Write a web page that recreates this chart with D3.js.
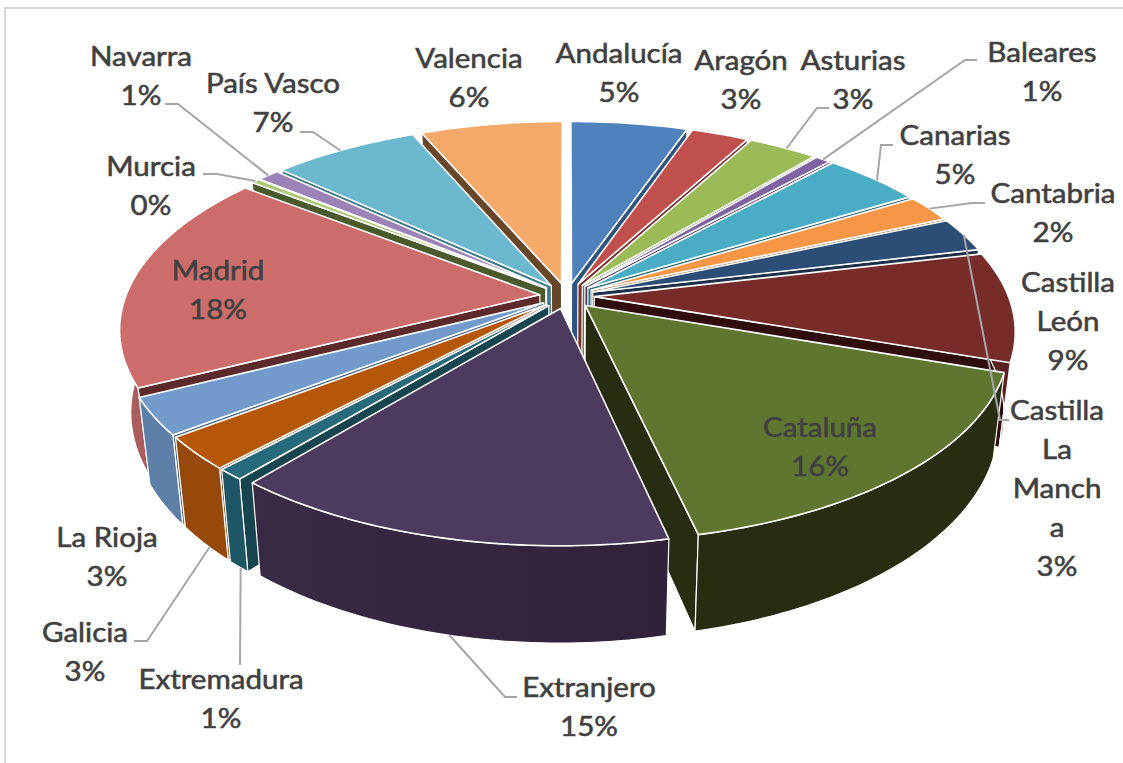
<!DOCTYPE html>
<html><head><meta charset="utf-8">
<style>html,body{margin:0;padding:0;background:#fff}svg{display:block}
text{font-family:Lato,"Open Sans",sans-serif;font-weight:400;font-size:26.5px;fill:#404040;stroke:#404040;stroke-width:0.55px;text-anchor:middle;dominant-baseline:central}</style>
<script src="https://cdnjs.cloudflare.com/ajax/libs/d3/7.8.5/d3.min.js"></script>
</head><body><svg id="c" width="1123" height="763"></svg>
<script>
// ---- data ----
const categories=["Andalucía","Aragón","Asturias","Baleares","Canarias","Cantabria","Castilla La Mancha","Castilla León","Cataluña","Extranjero","Extremadura","Galicia","La Rioja","Madrid","Murcia","Navarra","País Vasco","Valencia"];
const values=[5.3,2.6,3.15,0.7,4.5,2.2,2.8,8.9,16.2,14.5,0.9,2.65,3.0,17.8,0.4,1.0,6.65,6.45];
const percentLabels=["5%","3%","3%","1%","5%","2%","3%","9%","16%","15%","1%","3%","3%","18%","0%","1%","7%","6%"];
// ---- colours ----
const topColors=["#4f81bd","#c0504d","#9bbb59","#8064a2","#4bacc6","#f79646","#2c4d75","#772c2a","#5f7530","#4d3b5f","#276a7c","#b65708","#729aca","#cc6d6b","#afc97a","#9b83b8","#6cb8cf","#f5a96a"];
const wallColors=["#3c6391","#943e3c","#779048","#62497f","#39859a","#be7335","#22395a","#5b2120","#282d11","#34263f","#1f5665","#96490a","#5d7fa8","#ab5d5d","#86a05e","#76648e","#5290a3","#bc8250"];
const sideColors=["#2d5580","#7a2f2d","#61793a","#4f3a6a","#2d6d80","#9c5e2a","#1c3048","#2f0d0c","#282d11","#2b2036","#17454f","#7c3c08","#4c6a8e","#5c2a2a","#4a5a2c","#5e4f74","#3f7a8c","#67462a"];
// ---- label layout: [centre x, first line y, text lines] ----
const labelPlace=[[619,53,["Andalucía"]],[741,60,["Aragón"]],[853,60,["Asturias"]],[1042,52,["Baleares"]],[955,135,["Canarias"]],[1053,193,["Cantabria"]],[1057,410,["Castilla","La","Manch","a"]],[1068,282,["Castilla","León"]],[820,427,["Cataluña"]],[589,687,["Extranjero"]],[221,679,["Extremadura"]],[85,632,["Galicia"]],[107,537,["La Rioja"]],[218,270,["Madrid"]],[151,166,["Murcia"]],[141,56,["Navarra"]],[273,83,["País Vasco"]],[469,58,["Valencia"]]];
// leader: category index, label-side end, elbow, position inside the slice arc (0..1), on bottom rim
const leaders=[[2,[829,108],[817,108],0.55,false],[3,[977,60],[965,60],0.5,false],[4,[893,145],[881,145],0.55,false],[5,[985,203],[972,203],0.5,false],[6,[1009,420],[1000,420],0.5,false],[9,[517,697],[505,697],0.49,true],[10,[240,665],[240,665],0.4,true],[11,[134,641],[147,641],0.4,true],[14,[203,174],[217,174],0.5,false],[15,[165,104],[178,104],0.5,false],[16,[300,132],[313,132],0.47,false]];
const lineH=38.8,labelStretch=1.115;

// ---- projection ----
const cx=567,cy=296,R=414,A=193,K=0.167,EX=0.066,DEPTH=80,SHRINK=0.975;
const TAU=Math.PI*2;
function project(u,v,low){
  const s=1/(1+K*v);
  const X=cx+R*u*s,Y=cy-A*v*s;
  return low?[cx+(X-cx)*SHRINK,Y+DEPTH*s]:[X,Y];
}
const pieGen=d3.pie().sort(null).value(d=>d).startAngle(0).endAngle(TAU);
const slices=pieGen(values).map((d,i)=>{
  const mid=(d.startAngle+d.endAngle)/2;
  return {i,a0:d.startAngle,a1:d.endAngle,mid,ox:EX*Math.sin(mid),oy:EX*Math.cos(mid)};
});
function rimPt(s,a,low){return project(s.ox+Math.sin(a),s.oy+Math.cos(a),low);}
function apexPt(s,low){return project(s.ox,s.oy,low);}
function arcAngles(s){const n=Math.max(2,Math.ceil((s.a1-s.a0)/0.02));return d3.range(n+1).map(k=>s.a0+(s.a1-s.a0)*k/n);}
const svg=d3.select("#c"),defs=svg.append("defs");
const line=d3.line();
// frame
svg.append("path").attr("d",line([[1123,8],[5,8],[5,763]])).attr("fill","none").attr("stroke","#d9d9d9").attr("stroke-width",2.2);

function area(p){return d3.polygonArea(p);}
const order=slices.slice().sort((a,b)=>Math.cos(b.mid)-Math.cos(a.mid));
const gs=svg.selectAll("g.slice").data(order).join("g").attr("class","slice");
gs.each(function(s){
  const g=d3.select(this);
  // radial walls
  [[s.a0,1],[s.a1,-1]].forEach(([a,sign])=>{
    const q=[apexPt(s,false),rimPt(s,a,false),rimPt(s,a,true),apexPt(s,true)];
    if(area(q)*sign>0){
      g.append("path").attr("d",line(q)+"Z").attr("fill",sideColors[s.i]).attr("stroke","#fff").attr("stroke-width",1.2).attr("stroke-linejoin","round");
    }
  });
  // outer wall, only the part that faces the viewer
  const ang=arcAngles(s);
  const front=ang.filter(a=>Math.cos(a)<0.08);
  if(front.length>1){
    const wall=front.map(a=>rimPt(s,a,false)).concat(front.slice().reverse().map(a=>rimPt(s,a,true)));
    const ext=d3.extent(wall,d=>d[0]);
    const gid="w"+s.i;
    const lg=defs.append("linearGradient").attr("id",gid).attr("gradientUnits","userSpaceOnUse").attr("x1",ext[0]).attr("x2",ext[1]).attr("y1",0).attr("y2",0);
    const base=d3.rgb(wallColors[s.i]);
    lg.append("stop").attr("offset",0).attr("stop-color",s.i===9?base.brighter(0.25):base);
    lg.append("stop").attr("offset",1).attr("stop-color",s.i===9?base.darker(0.3):base);
    g.append("path").attr("d",line(wall)+"Z").attr("fill",`url(#${gid})`).attr("stroke","#fff").attr("stroke-width",1.2).attr("stroke-linejoin","round");
  }
  // top
  const top=[apexPt(s,false)].concat(ang.map(a=>rimPt(s,a,false)));
  g.append("path").attr("d",line(top)+"Z").attr("fill",topColors[s.i]).attr("stroke","#fff").attr("stroke-width",1.6).attr("stroke-linejoin","round");
});

// leaders
svg.selectAll("path.leader").data(leaders).join("path").attr("class","leader")
  .attr("fill","none").attr("stroke","#a6a6a6").attr("stroke-width",2)
  .attr("d",([i,end,elbow,f,low])=>{
    const s=slices[i];
    const p=rimPt(s,s.a0+(s.a1-s.a0)*f,low);
    return line([end,elbow,p]);
  });

// labels
const tg=svg.selectAll("text").data(categories).join("text")
  .attr("transform",(d,i)=>`translate(${labelPlace[i][0]},${labelPlace[i][1]}) scale(${labelStretch},1)`);
tg.each(function(d,i){
  const t=d3.select(this);
  const rows=labelPlace[i][2].concat(percentLabels[i]);
  rows.forEach((r,k)=>t.append("tspan").attr("x",0).attr("y",k*lineH).text(r));
});
</script></body></html>
